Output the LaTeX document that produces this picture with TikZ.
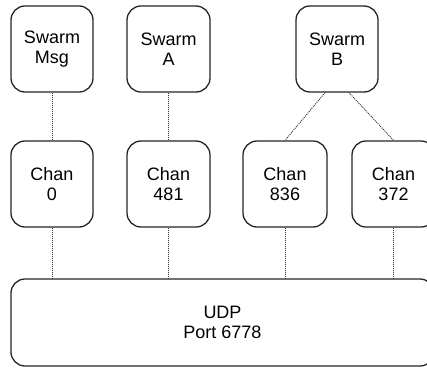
\documentclass[tikz,border=0pt]{standalone}
\usepackage{fontspec}
\setmainfont{Liberation Sans}
\begin{document}
\begin{tikzpicture}[x=1pt,y=-1pt,
  box/.style={draw=black!85, line width=1.3pt, rounded corners=14pt, fill=white,
    align=center, font=\fontsize{18}{20.5}\selectfont, inner sep=0pt},
  link/.style={line width=0.9pt, dash pattern=on 1pt off 1pt, black!80}]
\useasboundingbox (0,0) rectangle (427,367);
\clip (0,0) rectangle (427,367);
% top row: swarms
\node[box, minimum width=82pt, minimum height=86pt] (smsg) at (52,49) {Swarm\\Msg};
\node[box, minimum width=83pt, minimum height=86pt] (sa) at (168.5,49) {Swarm\\A};
\node[box, minimum width=82pt, minimum height=86pt] (sb) at (337,49) {Swarm\\B};
% middle row: channels
\node[box, minimum width=82pt, minimum height=86pt] (c0) at (52,184) {Chan\\0};
\node[box, minimum width=83pt, minimum height=86pt] (c481) at (168.5,184) {Chan\\481};
\node[box, minimum width=84pt, minimum height=86pt] (c836) at (285,184) {Chan\\836};
\node[box, minimum width=83pt, minimum height=86pt] (c372) at (393.5,184) {Chan\\372};
% bottom: transport
\node[box, minimum width=423pt, minimum height=87pt] (udp) at (222.5,322.5) {UDP\\Port 6778};
% connectors
\draw[link] (smsg.south) -- (c0.north);
\draw[link] (sa.south) -- (c481.north);
\draw[link] ([xshift=-12pt]sb.south) -- (c836.north);
\draw[link] ([xshift=12pt]sb.south) -- (c372.north);
\draw[link] (c0.south) -- (c0.south |- udp.north);
\draw[link] (c481.south) -- (c481.south |- udp.north);
\draw[link] (c836.south) -- (c836.south |- udp.north);
\draw[link] (c372.south) -- (c372.south |- udp.north);
\end{tikzpicture}
\end{document}
